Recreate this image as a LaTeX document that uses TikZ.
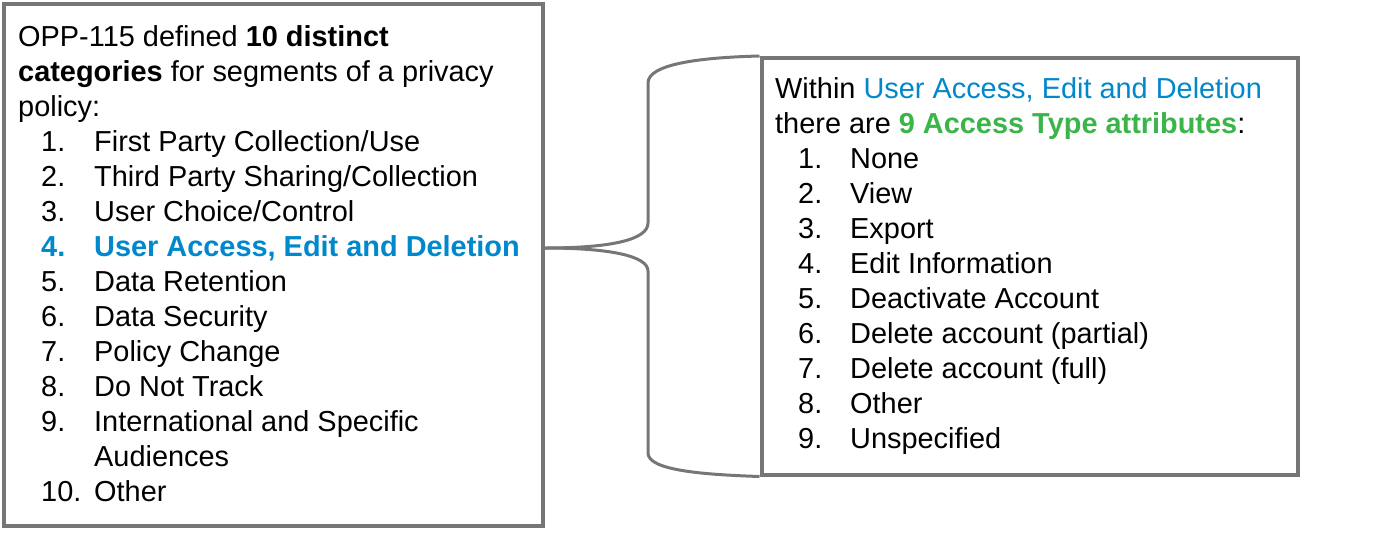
\documentclass[tikz,border=0pt]{standalone}
\usepackage{fontspec}
\setmainfont{Liberation Sans}
\usepackage{tikz}
\usetikzlibrary{calc}
\definecolor{accessblue}{RGB}{0,136,204}
\definecolor{attrgreen}{RGB}{59,181,74}
\definecolor{framegray}{RGB}{118,118,118}
\tikzset{
  frame/.style={draw=framegray,line width=4pt,fill=white,inner sep=0pt},
  txt/.style={anchor=base west,inner sep=0pt,font=\fontsize{28.9}{35}\selectfont},
  hilite/.style={txt,text=accessblue,font=\fontsize{28.9}{35}\selectfont\bfseries},
  bracket/.style={draw=framegray,line width=3pt}
}
\begin{document}
\begin{tikzpicture}[x=1pt,y=-1pt]
    \useasboundingbox (0,0) rectangle (1391,533);
    \node[frame,minimum width=539.5pt,minimum height=522.5pt] (catbox) at (273.25,264.75) {};
    \node[frame,minimum width=536.5pt,minimum height=416.5pt] (attrbox) at (1029.75,266.25) {};
    % left box: the ten categories
    \node[txt] (cathead1) at (18,46.5) {OPP-115 defined \textbf{10 distinct}};
    \node[txt] (cathead2) at (18,81.5) {\textbf{categories} for segments of a privacy};
    \node[txt] (cathead3) at (18,116.5) {policy:};
    \node[txt] (catnum1) at (41,151.5) {1.};
    \node[txt] (cat1) at (94,151.5) {First Party Collection/Use};
    \node[txt] (catnum2) at (41,186.5) {2.};
    \node[txt] (cat2) at (94,186.5) {Third Party Sharing/Collection};
    \node[txt] (catnum3) at (41,221.5) {3.};
    \node[txt] (cat3) at (94,221.5) {User Choice/Control};
    \node[hilite] (catnum4) at (41,256.5) {4.};
    \node[hilite] (cat4) at (94,256.5) {User Access, Edit and Deletion};
    \node[txt] (catnum5) at (41,291.5) {5.};
    \node[txt] (cat5) at (94,291.5) {Data Retention};
    \node[txt] (catnum6) at (41,326.5) {6.};
    \node[txt] (cat6) at (94,326.5) {Data Security};
    \node[txt] (catnum7) at (41,361.5) {7.};
    \node[txt] (cat7) at (94,361.5) {Policy Change};
    \node[txt] (catnum8) at (41,396.5) {8.};
    \node[txt] (cat8) at (94,396.5) {Do Not Track};
    \node[txt] (catnum9) at (41,431.5) {9.};
    \node[txt] (cat9) at (94,431.5) {International and Specific};
    \node[txt] (cat9b) at (94,466.5) {Audiences};
    \node[txt] (catnum10) at (41,501.5) {10.};
    \node[txt] (cat10) at (94,501.5) {Other};
    % right box: the access types
    \node[txt] (attrhead1) at (775,98.5) {Within \textcolor{accessblue}{User Access, Edit and Deletion}};
    \node[txt] (attrhead2) at (775,133.5) {there are \textcolor{attrgreen}{\textbf{9 Access Type attributes}}:};
    \node[txt] (attrnum1) at (798,168.5) {1.};
    \node[txt] (attr1) at (850,168.5) {None};
    \node[txt] (attrnum2) at (798,203.5) {2.};
    \node[txt] (attr2) at (850,203.5) {View};
    \node[txt] (attrnum3) at (798,238.5) {3.};
    \node[txt] (attr3) at (850,238.5) {Export};
    \node[txt] (attrnum4) at (798,273.5) {4.};
    \node[txt] (attr4) at (850,273.5) {Edit Information};
    \node[txt] (attrnum5) at (798,308.5) {5.};
    \node[txt] (attr5) at (850,308.5) {Deactivate Account};
    \node[txt] (attrnum6) at (798,343.5) {6.};
    \node[txt] (attr6) at (850,343.5) {Delete account (partial)};
    \node[txt] (attrnum7) at (798,378.5) {7.};
    \node[txt] (attr7) at (850,378.5) {Delete account (full)};
    \node[txt] (attrnum8) at (798,413.5) {8.};
    \node[txt] (attr8) at (850,413.5) {Other};
    \node[txt] (attrnum9) at (798,448.5) {9.};
    \node[txt] (attr9) at (850,448.5) {Unspecified};
    % brace from item 4 to the right box
    \coordinate (tip) at (catbox.east |- 0,248);
    \draw[bracket] (tip) .. controls (610,248) and (648,240) .. (648,223) -- (648,83)
        .. controls (648,64) and (700,57.5) .. (attrbox.north west);
    \draw[bracket] (tip) .. controls (610,248) and (648,256) .. (648,271) -- (648,453)
        .. controls (648,470) and (700,474.5) .. (attrbox.south west);
\end{tikzpicture}
\end{document}
